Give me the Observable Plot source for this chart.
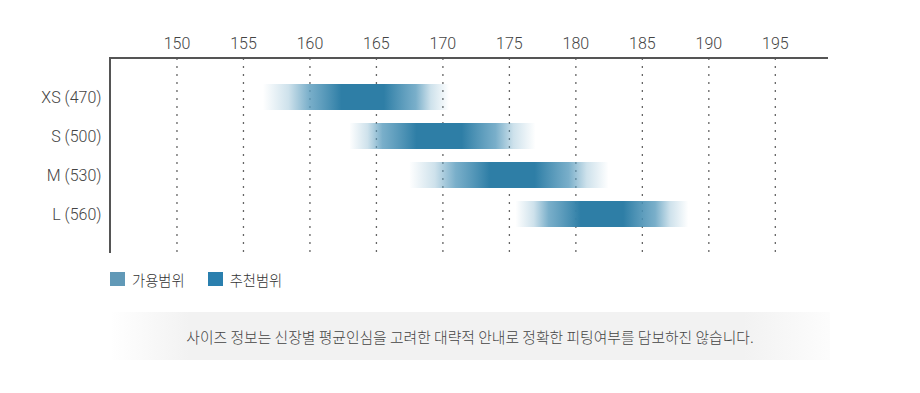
<!DOCTYPE html>
<html><head><meta charset="utf-8">
<script src="https://cdn.jsdelivr.net/npm/d3@7"></script>
<script src="https://cdn.jsdelivr.net/npm/@observablehq/plot@0.6"></script>
<style>
body{margin:0;background:#fff;font-family:Roboto,"Noto Sans CJK KR",sans-serif;}
#wrap{width:920px;}
#legend{display:flex;align-items:center;margin-left:110px;margin-top:8px;height:18px;font-family:"Noto Sans CJK KR",sans-serif;font-size:14.3px;font-weight:300;color:#333;}
.sw{width:15px;height:14px;display:inline-block;margin-right:7px;}
.item{display:flex;align-items:center;margin-right:23px;}
#caption{margin-left:110px;width:720px;height:48px;margin-top:24px;display:flex;align-items:center;justify-content:center;
 background:linear-gradient(to right,rgba(242,242,242,0) 0%,#f2f2f2 11%,#f2f2f2 88%,rgba(242,242,242,0.2) 100%);
 font-family:"Noto Sans CJK KR",sans-serif;font-size:14.8px;font-weight:300;color:#444;}
</style></head><body>
<div id="wrap"><div id="chart"></div>
<div id="legend"></div>
<div id="caption"></div></div>
<script>
const sizes = ["XS (470)", "S (500)", "M (530)", "L (560)"];
const availMin = [156.5, 163, 167.5, 175.5];
const availMax = [170.5, 177, 182.5, 188.5];
const recMin = [160, 165.5, 171, 178];
const recMax = [168, 174, 179.5, 186];
const xTicks = [150, 155, 160, 165, 170, 175, 180, 185, 190, 195];
const legendLabels = ["가용범위", "추천범위"];
const legendColors = ["#6199b7", "#2a7fae"];
const captionText = "사이즈 정보는 신장별 평균인심을 고려한 대략적 안내로 정확한 피팅여부를 담보하진 않습니다.";

const lightColor = "#5c9dbe";
const darkColor = "#2e7ea6";

const rows = sizes.map((s, i) => ({size: s, a0: availMin[i], a1: availMax[i], r0: recMin[i], r1: recMax[i], id: "grad" + i}));

const axisLines = (index, scales, values, dims) => {
  const g = d3.create("svg:path")
    .attr("fill", "none").attr("stroke", "#555").attr("stroke-width", 2)
    .attr("d", `M${dims.marginLeft},${dims.height - dims.marginBottom}V${dims.marginTop}H${dims.width - dims.marginRight}`);
  return g.node();
};

const plot = Plot.plot({
  width: 920, height: 262,
  marginTop: 58, marginLeft: 110, marginRight: 92, marginBottom: 9,
  style: {fontFamily: "Roboto, 'Noto Sans CJK KR', sans-serif", fontSize: "16px", fontWeight: 300, color: "#444", background: "transparent"},
  x: {domain: [145, 199], axis: "top", ticks: xTicks, tickSize: 0, tickPadding: 10, label: null},
  y: {domain: sizes, paddingInner: 1/3, paddingOuter: 2/3, tickSize: 0, tickPadding: 9, label: null},
  color: {type: "identity"},
  marks: [
    Plot.ruleX(xTicks, {stroke: "#666", strokeWidth: 1.3, strokeDasharray: "2,6"}),
    Plot.barX(rows, {x1: "a0", x2: "a1", y: "size", fill: d => `url(#${d.id})`}),
    axisLines
  ]
});

// gradient definitions derived from the data
const svg = d3.select(plot);
const defs = svg.insert("defs", ":first-child");
rows.forEach(d => {
  const w = d.a1 - d.a0;
  const f0 = (d.r0 - d.a0) / w, f1 = (d.r1 - d.a0) / w;
  const stops = [
    [0, lightColor, 0],
    [f0 * 0.55, lightColor, 0.3],
    [f0, lightColor, 0.82],
    [f0 + (f1 - f0) * 0.3, darkColor, 1],
    [f0 + (f1 - f0) * 0.7, darkColor, 1],
    [f1, lightColor, 0.82],
    [f1 + (1 - f1) * 0.45, lightColor, 0.3],
    [1, lightColor, 0]
  ];
  const lg = defs.append("linearGradient").attr("id", d.id).attr("x1", 0).attr("x2", 1).attr("y1", 0).attr("y2", 0);
  stops.forEach(([o, c, a]) => lg.append("stop").attr("offset", o).attr("stop-color", c).attr("stop-opacity", a));
});
document.getElementById("chart").appendChild(plot);

const legend = document.getElementById("legend");
legendLabels.forEach((l, i) => {
  const it = document.createElement("div"); it.className = "item";
  const sw = document.createElement("span"); sw.className = "sw"; sw.style.background = legendColors[i];
  it.appendChild(sw); it.appendChild(document.createTextNode(l));
  legend.appendChild(it);
});
document.getElementById("caption").textContent = captionText;
</script>
</body></html>
